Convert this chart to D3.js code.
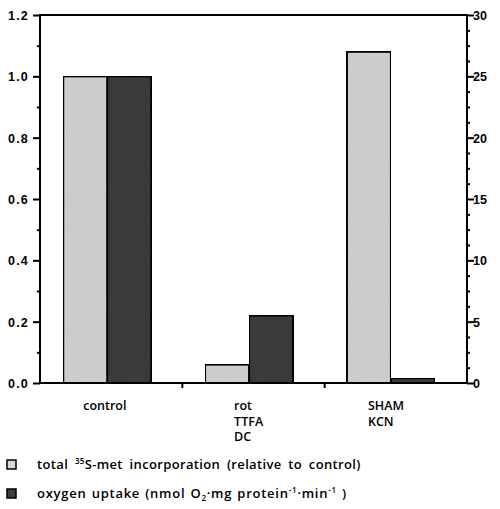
<!DOCTYPE html>
<html><head><meta charset="utf-8">
<script src="https://cdn.jsdelivr.net/npm/d3@7"></script>
<style>body{margin:0;background:#fff}</style>
</head><body>
<svg id="c" width="500" height="509"></svg>
<script>
const categories = ["control", "rot\nTTFA\nDC", "SHAM\nKCN"];
const incorporation = [1.0, 0.06, 1.08];      // left axis, relative to control
const oxygenUptake = [25, 5.5, 0.4];          // right axis, nmol O2/mg/min
const leftTicks = [0, 0.2, 0.4, 0.6, 0.8, 1.0, 1.2];
const rightTicks = [0, 5, 10, 15, 20, 25, 30];

const svg = d3.select("#c");
const L = 40, R = 467, T = 15, B = 383;
const yL = d3.scaleLinear().domain([0, 1.2]).range([B, T]);
const yR = d3.scaleLinear().domain([0, 30]).range([B, T]);
const x = d3.scaleBand().domain(categories).range([L, R])
  .paddingInner(0.38).paddingOuter(0.195).align(0.42);
const sub = d3.scaleBand().domain([0, 1]).range([0, x.bandwidth()]);

const lightFill = "#d6d6d6", darkFill = "#3d3d3d";
const defs = svg.append("defs");
const f = defs.append("filter").attr("id", "grain").attr("x", 0).attr("y", 0).attr("width", 1).attr("height", 1);
f.append("feTurbulence").attr("type", "fractalNoise").attr("baseFrequency", 0.9).attr("numOctaves", 1).attr("result", "n");
f.append("feColorMatrix").attr("in", "n").attr("type", "matrix")
  .attr("values", "0 0 0 0 0  0 0 0 0 0  0 0 0 0 0  0 0 0 0.2 0").attr("result", "a");
f.append("feComposite").attr("in", "a").attr("in2", "SourceGraphic").attr("operator", "atop");

// frame top
svg.append("line").attr("x1", L).attr("x2", R).attr("y1", T).attr("y2", T)
  .attr("stroke", "#000").attr("stroke-width", 2);

// bars
const g = svg.append("g");
categories.forEach((c, i) => {
  const x0 = x(c);
  g.append("rect").attr("x", x0 + sub(0)).attr("y", yL(incorporation[i]))
    .attr("width", sub.bandwidth()).attr("height", B - yL(incorporation[i]))
    .attr("fill", lightFill).attr("stroke", "#000").attr("stroke-width", 2).attr("filter", "url(#grain)");
  g.append("rect").attr("x", x0 + sub(1)).attr("y", yR(oxygenUptake[i]))
    .attr("width", sub.bandwidth()).attr("height", B - yR(oxygenUptake[i]))
    .attr("fill", darkFill).attr("stroke", "#000").attr("stroke-width", 2).attr("filter", "url(#grain)");
});

// left axis
const axL = svg.append("g").attr("transform", `translate(${L},0)`);
axL.call(d3.axisLeft(yL).tickValues(d3.range(0, 13).map(d => d / 10)).tickSize(3).tickFormat(""));
axL.selectAll(".tick").filter(d => Math.round(d * 10) % 2 === 0).select("line").attr("x2", -7);
axL.selectAll(".tick text").remove();
axL.selectAll(".tick").filter(d => Math.round(d * 10) % 2 === 0)
  .append("text").attr("x", -11).attr("dy", "0.36em").attr("text-anchor", "end")
  .attr("letter-spacing", 1.2).attr("fill", "#000").text(d => d3.format(".1f")(d));
axL.select(".domain").attr("d", `M0,${B + 1}V${T - 1}`);

// right axis
const axR = svg.append("g").attr("transform", `translate(${R},0)`);
axR.call(d3.axisRight(yR).tickValues(d3.range(0, 25).map(d => d * 1.25)).tickSize(3).tickFormat(""));
axR.selectAll(".tick").filter(d => rightTicks.includes(d)).select("line").attr("x2", 7);
axR.selectAll(".tick").filter(d => rightTicks.includes(d))
  .append("text").attr("x", 6).attr("dy", "0.36em").attr("text-anchor", "start")
  .attr("fill", "#000").text(d => d);
axR.select(".domain").attr("d", `M0,${B + 1}V${T - 1}`);

[axL, axR].forEach(a => {
  a.selectAll("line").attr("stroke", "#000").attr("stroke-width", 2);
  a.select(".domain").attr("stroke", "#000").attr("stroke-width", 2);
  a.selectAll("text").attr("font-family", "Liberation Sans, Arial, sans-serif")
    .attr("font-weight", "bold").attr("font-size", 12.5);
});

// x axis
svg.append("line").attr("x1", L).attr("x2", R).attr("y1", B).attr("y2", B)
  .attr("stroke", "#000").attr("stroke-width", 2);
const dividers = categories.slice(1).map((c, i) => L + (i + 1) * (R - L) / categories.length);
svg.selectAll(".div").data(dividers).join("line")
  .attr("x1", d => d).attr("x2", d => d).attr("y1", B).attr("y2", B + 5)
  .attr("stroke", "#000").attr("stroke-width", 2);

// category labels
const labOffset = [20, 29, 21];
categories.forEach((c, i) => {
  const lx = x(c) + labOffset[i];
  c.split("\n").forEach((line, j) => {
    svg.append("text").attr("x", lx).attr("y", 410 + j * 15.5)
      .attr("font-family", "Open Sans, sans-serif").attr("font-weight", 600)
      .attr("font-size", 12.5).attr("fill", "#000").text(line);
  });
});

// legend
const leg = svg.append("g").attr("font-family", "Open Sans, sans-serif").attr("font-weight", 600)
  .attr("font-size", 13).attr("fill", "#000");
leg.append("rect").attr("x", 7).attr("y", 460).attr("width", 9).attr("height", 9)
  .attr("fill", lightFill).attr("stroke", "#000").attr("stroke-width", 1.5);
leg.append("rect").attr("x", 7).attr("y", 489).attr("width", 9).attr("height", 9)
  .attr("fill", darkFill).attr("stroke", "#000").attr("stroke-width", 1.5);
const t1 = leg.append("text").attr("x", 37).attr("y", 469).attr("word-spacing", 3).attr("letter-spacing", 0.35);
t1.append("tspan").text("total ");
t1.append("tspan").attr("font-size", 8).attr("dy", -5).text("35");
t1.append("tspan").attr("dy", 5).text("S-met incorporation (relative to control)");
const t2 = leg.append("text").attr("x", 37).attr("y", 498).attr("letter-spacing", 0.75).attr("word-spacing", 1);
t2.append("tspan").text("oxygen uptake  (nmol O");
t2.append("tspan").attr("font-size", 8).attr("dy", 3).text("2");
t2.append("tspan").attr("dy", -3).text("·mg protein");
t2.append("tspan").attr("font-size", 8).attr("dy", -5).text("-1");
t2.append("tspan").attr("dy", 5).text("·min");
t2.append("tspan").attr("font-size", 8).attr("dy", -5).text("-1");
t2.append("tspan").attr("dy", 5).text(" )");
</script>
</body></html>
